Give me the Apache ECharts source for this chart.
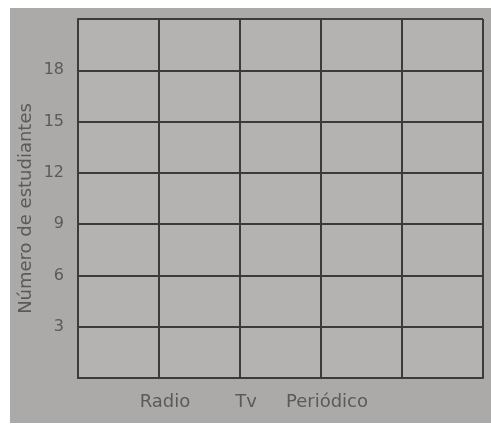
<!DOCTYPE html>
<html>
<head>
<meta charset="utf-8">
<script src="https://cdn.jsdelivr.net/npm/echarts@6/dist/echarts.min.js"></script>
<style>
html,body{margin:0;padding:0;background:#ffffff;}
#chart{width:491px;height:425px;}
</style>
</head>
<body>
<div id="chart"></div>
<script>
// Categories along the x axis (labels sit on the vertical grid lines)
const categories = ['', 'Radio', 'Tv', 'Periódico', '', ''];
// Y tick labels shown on the axis
const yTickLabels = ['3', '6', '9', '12', '15', '18'];
// Series values: the reference is an empty (unfilled) grid
const values = [null, null, null, null, null, null];
const yAxisName = 'Número de estudiantes';

const chart = echarts.init(document.getElementById('chart'));
const lineColor = '#3b3b3b';
const textColor = '#5a5a5a';
chart.setOption({
  animation: false,
  backgroundColor: '#ffffff',
  graphic: [{
    type: 'rect',
    z: -10,
    shape: {x: 10, y: 8, width: 481, height: 415},
    style: {fill: '#abaaa8'}
  }],
  grid: {
    left: 78, right: 8, top: 19, bottom: 47,
    show: true, backgroundColor: '#b4b3b1', borderWidth: 0
  },
  xAxis: {
    type: 'category',
    data: categories,
    boundaryGap: false,
    axisLine: {show: true, lineStyle: {color: lineColor, width: 2}},
    axisTick: {show: false},
    splitLine: {show: true, lineStyle: {color: lineColor, width: 2}},
    axisLabel: {
      interval: 0, margin: 15, color: textColor,
      fontFamily: 'DejaVu Sans', fontSize: 18,
      padding: [0, 0, 0, 12]
    }
  },
  yAxis: {
    type: 'value',
    min: 0, max: 21, interval: 3,
    name: yAxisName,
    nameLocation: 'middle',
    nameGap: 43,
    nameMoveOverlap: false,
    nameTextStyle: {color: textColor, fontFamily: 'DejaVu Sans', fontSize: 18, padding: [0, 20, 0, 0]},
    axisLine: {show: true, lineStyle: {color: lineColor, width: 2}},
    axisTick: {show: false},
    splitLine: {show: true, lineStyle: {color: lineColor, width: 2}},
    axisLabel: {
      margin: 14, color: textColor, fontFamily: 'DejaVu Sans', fontSize: 16,
      formatter: function (v) {
        const s = String(v);
        return yTickLabels.indexOf(s) >= 0 ? s : '';
      }
    }
  },
  series: [{type: 'bar', data: values}]
});
</script>
</body>
</html>
